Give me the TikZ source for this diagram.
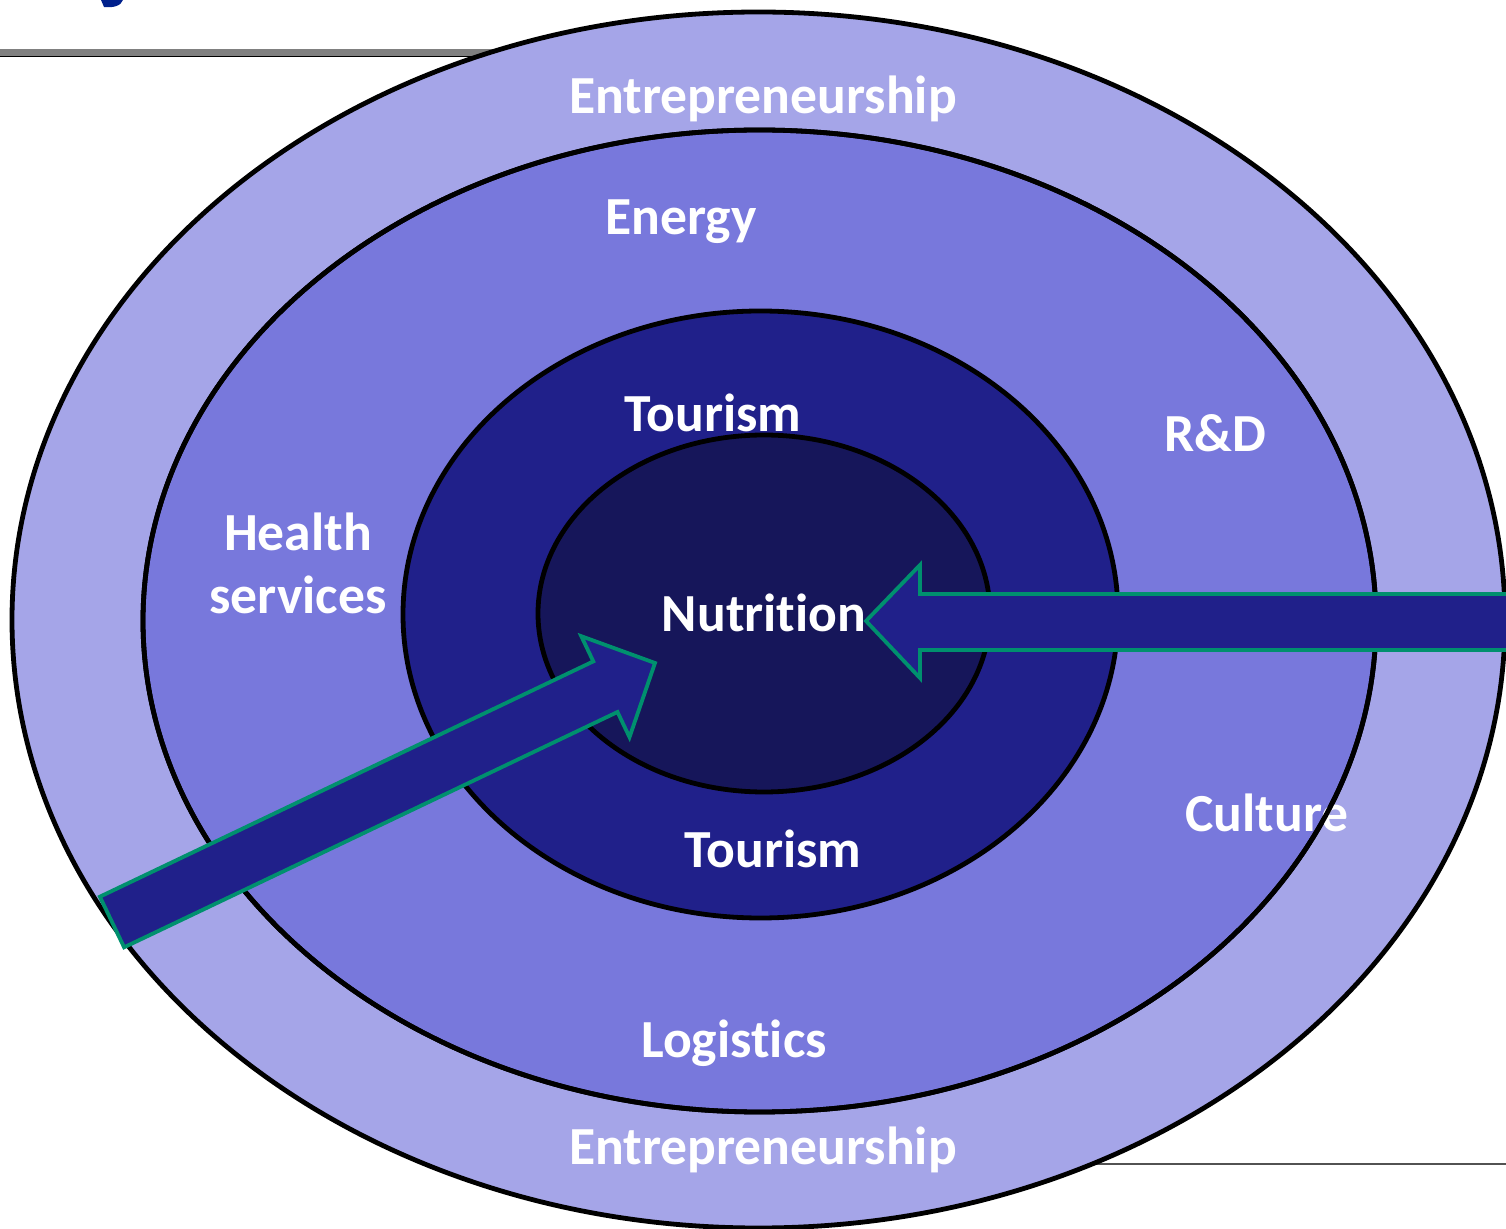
\documentclass[tikz,border=0pt]{standalone}
\usepackage{fontspec}
\setmainfont{Carlito}[Ligatures=NoCommon]
\definecolor{ringA}{HTML}{A5A5E8}
\definecolor{ringB}{HTML}{7878DC}
\definecolor{ringC}{HTML}{20208A}
\definecolor{ringD}{HTML}{16165A}
\definecolor{arrowfill}{HTML}{20208A}
\definecolor{arrowline}{HTML}{00906E}
\definecolor{titleblue}{HTML}{00208C}
\begin{document}
\begin{tikzpicture}[x=0.5pt,y=-0.5pt,
  ring/.style={draw=black,line width=2.4pt},
  lbl/.style={text=white,font=\bfseries\fontsize{26.8}{31}\selectfont,anchor=base,inner sep=0pt},
  blockarrow/.style={fill=arrowfill,draw=arrowline,line width=1.9pt,line join=miter}]
\useasboundingbox (0,0) rectangle (1506,1229);
\begin{scope}
\clip (0,0) rectangle (1506,1229);
% header remnants
\fill[titleblue] (101,0) -- (123,0) .. controls (121,6) and (113,8) .. (104,7) -- cycle;
\fill[gray] (0,49) rectangle (800,56);
\draw[black,line width=0.6pt] (0,56.5) -- (800,56.5);
\draw[black!68,line width=1pt] (1000,1164) -- (1506,1164);
% rings
\path[ring,fill=ringA] (758.5,620) ellipse [x radius=746.5, y radius=608];
\path[ring,fill=ringB] (759.5,621) ellipse [x radius=616.5, y radius=491];
\path[ring,fill=ringC] (760.5,614.5) ellipse [x radius=357.5, y radius=303.5];
\path[ring,fill=ringD] (764,613.5) ellipse [x radius=226, y radius=178.5];
% labels
\node[lbl] (entTop) at (763,114) {Entrepreneurship};
\node[lbl] (energy) at (681,235) {Energy};
\node[lbl] (tourTop) at (713,432) {Tourism};
\node[lbl] (rd) at (1215,452) {R\&D};
\node[lbl] (health) at (298,551) {Health};
\node[lbl] (services) at (298,614) {services};
\node[lbl] (nutrition) at (764,632) {Nutrition};
\node[lbl] (culture) at (1267,832) {Culture};
\node[lbl] (tourBot) at (773,868) {Tourism};
\node[lbl] (logistics) at (734,1057) {Logistics};
\node[lbl] (entBot) at (763,1164) {Entrepreneurship};
% second ring outline passes over "Culture"
\draw[line width=2.4pt] (759.5,621) ellipse [x radius=616.5, y radius=491];
% block arrows
\draw[blockarrow] (1530,594) -- (920,594) -- (920,565) -- (866,621) -- (920,678) -- (920,650) -- (1530,650);
\draw[blockarrow] (99.9,896.7) -- (593.3,661.4) -- (581.3,636.2) -- (655,663) -- (629.5,737.2) -- (617.5,712.0) -- (124.1,947.3) -- cycle;
\end{scope}
\end{tikzpicture}
\end{document}
